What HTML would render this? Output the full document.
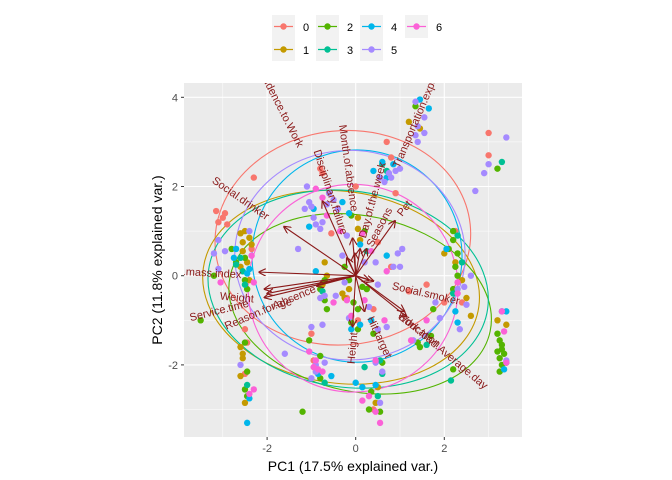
<!DOCTYPE html>
<html><head><meta charset="utf-8"><style>
body{margin:0;background:#fff;}
svg{display:block;font-family:"Liberation Sans",sans-serif;}
</style></head><body>
<svg id="chart" width="672" height="480" viewBox="0 0 672 480">
<defs>
<clipPath id="clipP"><rect x="184" y="83" width="338" height="354"/></clipPath>
<marker id="arr" viewBox="0 0 10 10" refX="9" refY="5" markerWidth="7" markerHeight="7" orient="auto-start-reverse"><path d="M0,0 L10,5 L0,10" fill="none" stroke="#8B1A1A" stroke-width="1.5"/></marker>
</defs>
<rect x="184" y="83" width="338" height="354" fill="#EBEBEB"/>
<g id="grid"></g>
<g id="ell" clip-path="url(#clipP)"></g>
<g id="pts" clip-path="url(#clipP)"></g>
<g id="arrows" clip-path="url(#clipP)"></g>
<g id="labels" clip-path="url(#clipP)"></g>
<g id="axes"></g>
<text x="353" y="471" text-anchor="middle" font-size="14" fill="#000">PC1 (17.5% explained var.)</text>
<text x="162" y="260" text-anchor="middle" font-size="14" fill="#000" transform="rotate(-90 162 260)">PC2 (11.8% explained var.)</text>
<g id="legend"></g>
</svg>
<script>
const colors=["#F8766D","#C49A00","#53B400","#00C094","#00B6EB","#A58AFF","#FB61D7"];
const groupNames=["0","1","2","3","4","5","6"];
const xTicks=[-2,0,2];
const yTicks=[-2,0,2,4];
const xMinor=[-3,-1,1,3];
const yMinor=[-3,-1,1,3];
const ptX=[-3.0,-3.1,-2.9,-3.15,-2.95,-2.3,-0.8,-0.75,0.0,0.7,0.8,0.9,3.0,3.0,2.25,-0.55,0.5,1.6,2.0,2.4,-2.5,-2.45,-2.5,0.4,0.4,-1.0,-0.95,0.05,1.2,-0.2,0.8,-2.35,
1.2,1.45,-2.6,-2.5,-2.4,-2.55,-2.35,-2.55,-2.45,-2.6,-2.4,-0.7,-0.65,-0.75,-0.3,-0.15,0.05,0.05,0.1,2.0,2.25,2.5,2.6,2.4,3.4,3.2,-2.6,-2.55,-2.55,-2.6,-2.5,0.45,0.5,-0.25,
1.35,-2.7,-2.8,-3.2,-2.5,-2.5,-2.45,-2.5,-2.45,-2.5,-2.45,-3.5,-0.1,-0.7,-0.65,-0.7,-0.8,-0.15,-0.05,0.05,-0.1,0.05,0.25,0.15,0.4,-1.05,-0.8,-0.8,0.6,0.35,0.3,0.55,-1.2,2.2,2.2,2.1,2.3,2.25,2.3,2.2,1.75,1.7,1.4,2.2,3.2,3.25,3.3,3.25,3.3,3.25,3.35,3.2,3.4,3.3,3.2,0.2,-0.25,1.45,
3.3,0.6,0.7,-2.6,-2.7,-2.55,-2.5,-2.45,0.55,0.6,0.2,0.5,2.3,2.4,2.2,2.15,1.6,-0.75,-0.7,0.25,
0.6,0.85,1.45,1.65,0.4,-2.7,-2.75,-2.45,-2.4,0.7,-0.3,-0.15,0.1,0.7,2.05,2.25,2.3,3.4,3.3,3.35,0.35,0.1,-0.1,-0.55,-0.85,0.0,0.15,0.45,-2.4,-2.45,-0.9,-0.95,-1.05,
1.35,1.55,1.4,1.55,1.4,1.35,0.75,0.9,0.8,1.0,0.65,0.55,3.4,3.0,2.9,2.7,-1.05,-1.0,-1.15,-0.95,-0.9,-0.75,-0.8,-1.1,-0.65,-0.4,-0.5,-0.6,-3.1,-2.95,-3.2,-3.1,-2.4,-0.3,0.2,0.45,-0.45,-0.25,-0.7,-0.8,0.5,0.3,0.7,0.85,1.0,0.95,1.05,0.5,-0.15,-1.0,-0.75,-0.9,-0.7,-0.9,-1.0,-1.6,0.6,0.45,2.3,2.35,1.8,1.9,2.5,2.45,2.6,1.3,-0.2,-1.3,3.4,0.55,-2.6,
-0.9,-0.75,-0.65,0.15,-0.35,-3.05,-2.3,-2.35,0.7,0.35,-0.2,-0.5,-0.1,0.2,0.65,-1.05,-0.9,-0.85,-0.95,-0.75,1.6,1.25,2.3,2.3,3.3,3.35,3.4,-2.4,-2.3,0.45,0.45,0.55,0.3,0.15];
const ptY=[1.3,1.2,1.15,1.45,1.4,2.2,2.4,2.3,2.0,3.0,2.65,1.85,3.2,2.7,1.0,0.95,0.75,-0.2,-0.6,-0.6,-2.2,-1.5,-1.2,-0.75,-3.0,-1.3,-1.9,-1.0,-0.35,-0.5,0.2,0.6,
3.45,3.3,0.95,1.0,0.85,0.75,0.7,0.55,0.3,0.2,-0.1,0.3,0.0,-0.2,-0.4,-0.3,1.3,1.05,0.8,0.5,0.3,-0.5,-0.9,-0.1,-1.1,-1.0,-1.6,-1.75,-1.85,-2.25,-2.85,-2.85,-2.5,-0.5,
3.8,0.3,0.6,0.0,0.4,-0.1,-0.3,-1.5,-2.15,-2.55,-2.7,-1.0,1.35,-0.1,-0.75,-0.55,-0.3,-0.1,-0.6,-0.75,-1.05,-1.2,-0.3,-0.25,-1.3,-1.45,-1.8,-2.3,-1.95,-2.6,-3.0,-3.05,-3.05,1.0,0.8,0.6,0.5,0.2,0.0,-0.3,-0.75,-1.35,-1.5,-2.1,-1.3,-1.45,-1.65,-1.85,-2.0,-2.15,-1.75,-1.7,-1.95,-1.55,2.4,1.0,0.2,-1.6,
2.55,2.5,2.35,0.4,0.25,0.1,-0.2,-2.45,-1.9,-2.2,-2.05,-2.7,0.9,0.3,-0.4,-2.35,-1.55,-0.35,-2.4,0.55,
2.55,2.5,3.95,3.75,2.35,0.6,0.4,0.05,0.15,2.2,1.65,1.4,0.7,0.45,0.6,-0.8,-1.05,-0.8,-0.8,-2.1,-1.0,-1.1,-1.2,-2.25,-2.2,-2.4,-2.5,-2.45,-2.75,-3.3,0.1,1.5,1.1,
3.9,3.55,3.35,3.2,3.0,3.15,2.3,2.35,2.2,2.4,2.1,2.2,3.1,2.5,2.3,1.9,1.65,1.55,1.5,1.3,1.15,1.2,1.05,2.0,1.6,1.5,1.7,1.85,0.8,0.55,0.5,0.15,1.0,0.45,0.3,0.3,-0.45,-0.15,-0.45,-0.5,-0.2,-0.7,-1.15,0.2,0.2,0.5,0.6,-1.2,-0.95,-1.15,-1.1,-2.0,-1.95,-2.15,-2.3,-1.75,-2.15,-1.95,-0.3,-1.2,-0.6,-0.95,-0.65,-0.25,0.0,-1.45,0.9,0.6,-1.9,-2.85,-2.0,
1.95,1.75,1.35,0.95,1.0,-0.15,-0.15,0.45,0.1,0.55,-0.55,-0.6,-0.9,-0.55,-1.0,-1.7,-1.9,-2.1,-2.05,-2.15,-1.0,-1.45,-0.4,-0.15,-0.8,-1.25,-1.95,-2.65,-2.55,-1.9,-3.05,-3.3,-2.7,-2.8];
const ptGroup=[].concat(Array(32).fill(0),Array(34).fill(1),Array(58).fill(2),Array(20).fill(3),Array(33).fill(4),Array(71).fill(5),Array(34).fill(6));
const ellCx=[-0.29,-0.33,0.1,-0.17,0.03,-0.13,-0.06];
const ellCy=[0.85,-0.26,-0.63,-0.3,0.44,0.46,-0.28];
const ellRx=[2.89,3.14,3.0,3.18,2.37,2.6,2.37];
const ellRy=[2.4,2.15,1.97,2.2,2.38,2.35,2.33];
const ellRot=[-6,8,12,8,0,0,0];
const varNames=["Disciplinary.failure","Social.drinker","Body.mass.index","Weight","Service.time","Age","Reason.for.absence","Month.of.absence","Day.of.the.week","Seasons","Pet","Social.smoker","Education","Work.load.Average.day","Hit.target","Height","Residence.to.Work","Transportation.expense","Son"];
const varX=[-0.75,-1.62,-2.18,-2.06,-2.06,-2.0,-0.88,-0.07,-0.02,0.1,0.89,0.4,1.1,1.15,0.2,-0.07,-0.2,0.25,0.3];
const varY=[1.67,1.10,0.08,-0.30,-0.49,-0.40,-0.23,0.84,0.5,0.6,1.23,-0.12,-0.8,-0.92,-0.8,-1.14,0.4,0.6,-0.1];
const labCx=[331,241,200,237,219,282,270,349,372,379,404,426,420,443,380,352,280,418,0];
const labCy=[192,198,272,297,310,303,307,168,200,227,208,293,330,350,337,348,105,114,-50];
const labAng=[72,35,3,5,-14,-12,-23,82,-75,-62,-52,13,37,40,65,-85,63,-67,0];

const NS="http://www.w3.org/2000/svg";
const sx=v=>355.7+v*44.3;
const sy=v=>275.7-v*44.6;
function mk(tag,attrs,parent){const e=document.createElementNS(NS,tag);for(const k in attrs)e.setAttribute(k,attrs[k]);parent.appendChild(e);return e;}
const grid=document.getElementById('grid');
xMinor.forEach(v=>{const l=mk('line',{x1:sx(v),x2:sx(v),y1:83,y2:437,stroke:'#fff','stroke-width':0.5},grid);

});
yMinor.forEach(v=>{const l=mk('line',{x1:184,x2:522,y1:sy(v),y2:sy(v),stroke:'#fff','stroke-width':0.5},grid);

});
const axes=document.getElementById('axes');
xTicks.forEach(v=>{const l=mk('line',{x1:sx(v),x2:sx(v),y1:83,y2:437,stroke:'#fff','stroke-width':1.1},grid);


const t=mk('line',{x1:sx(v),x2:sx(v),y1:437,y2:440,stroke:'#333','stroke-width':1},axes);


const tx=mk('text',{x:sx(v),y:452,'text-anchor':'middle','font-size':11,fill:'#4d4d4d'},axes);tx.textContent=v;

});
yTicks.forEach(v=>{const l=mk('line',{x1:184,x2:522,y1:sy(v),y2:sy(v),stroke:'#fff','stroke-width':1.1},grid);


const t=mk('line',{x1:181,x2:184,y1:sy(v),y2:sy(v),stroke:'#333','stroke-width':1},axes);


const tx=mk('text',{x:178,y:sy(v)+4,'text-anchor':'end','font-size':11,fill:'#4d4d4d'},axes);tx.textContent=v;

});
const pts=document.getElementById('pts');
ptX.forEach((v,i)=>{const c=mk('circle',{cx:sx(v),cy:sy(ptY[i]),r:3.2,fill:colors[ptGroup[i]]},pts);

});
const ell=document.getElementById('ell');
ellCx.forEach((v,i)=>{const e=mk('ellipse',{cx:sx(v),cy:sy(ellCy[i]),rx:ellRx[i]*44.3,ry:ellRy[i]*44.6,fill:'none',stroke:colors[i],'stroke-width':1.1,transform:`rotate(${ellRot[i]} ${sx(v)} ${sy(ellCy[i])})`},ell);

});
const arrows=document.getElementById('arrows');
varX.forEach((v,i)=>{const a=mk('line',{x1:sx(0),y1:sy(0),x2:sx(v),y2:sy(varY[i]),stroke:'#8B1A1A','stroke-width':1.1,'marker-end':'url(#arr)'},arrows);

});
const labels=document.getElementById('labels');
varNames.forEach((n,i)=>{const t=mk('text',{x:labCx[i],y:labCy[i]+4,'text-anchor':'middle','font-size':11,fill:'#8B1A1A',transform:`rotate(${labAng[i]} ${labCx[i]} ${labCy[i]})`},labels);t.textContent=n;

});
const legend=document.getElementById('legend');
const legX=[272,316,360,405],legY=[15,38];
groupNames.forEach((n,i)=>{const col=Math.floor(i/2),row=i%2;const x=legX[col],y=legY[row];
const g=mk('g',{},legend);


mk('rect',{x:x,y:y,width:23,height:23,fill:'#F2F2F2'},g);
mk('line',{x1:x+2,x2:x+21,y1:y+11.5,y2:y+11.5,stroke:colors[i],'stroke-width':1.2},g);
mk('circle',{cx:x+11.5,cy:y+11.5,r:3.2,fill:colors[i]},g);
const t=mk('text',{x:x+31,y:y+16,'font-size':11,fill:'#000'},g);t.textContent=n;});
</script>
</body></html>
